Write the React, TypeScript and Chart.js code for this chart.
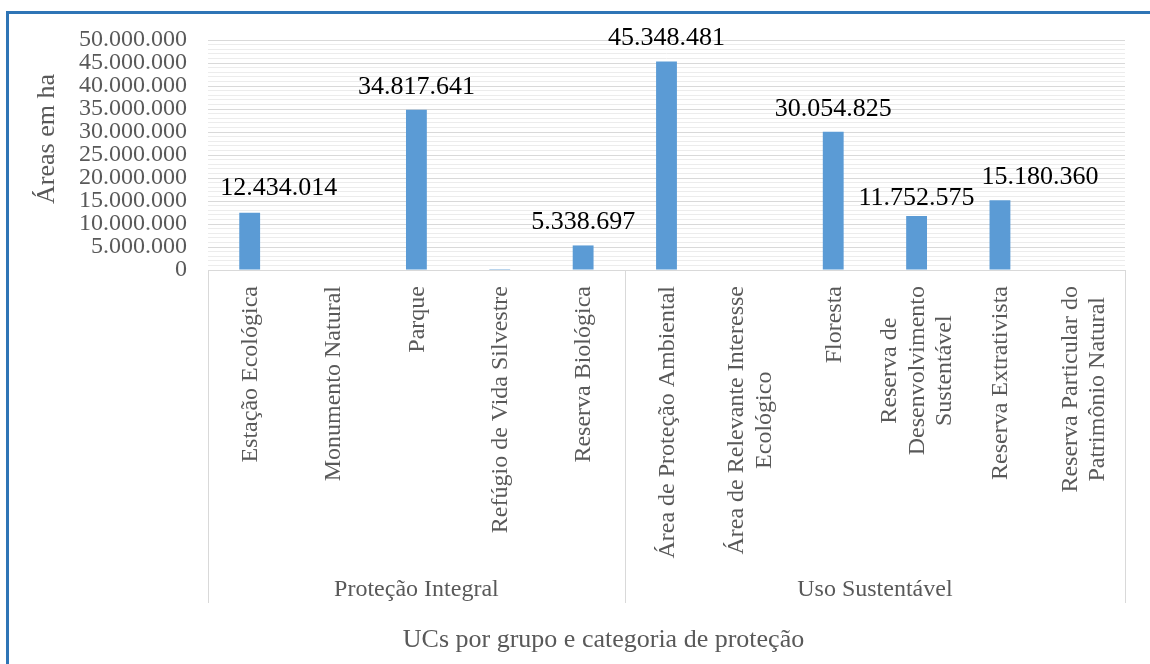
import React, { useEffect, useRef } from "react";
import { Chart, registerables } from "chart.js";

Chart.register(...registerables);

// ---- data ----
const categories: string[][] = [
  ["Estação Ecológica"],
  ["Monumento Natural"],
  ["Parque"],
  ["Refúgio de Vida Silvestre"],
  ["Reserva Biológica"],
  ["Área de Proteção Ambiental"],
  ["Área de Relevante Interesse", "Ecológico"],
  ["Floresta"],
  ["Reserva de", "Desenvolvimento", "Sustentável"],
  ["Reserva Extrativista"],
  ["Reserva Particular do", "Patrimônio Natural"],
];
const groupNames = ["Proteção Integral", "Uso Sustentável"];
const groupSizes = [5, 6];
const areas = [
  12434014, 0, 34817641, 200000, 5338697, 45348481, 0, 30054825,
  11752575, 15180360, 0,
];
const showLabel = [true, false, true, false, true, true, false, true, true, true, false];
const yTickValues = [0, 5000000, 10000000, 15000000, 20000000, 25000000, 30000000, 35000000, 40000000, 45000000, 50000000];
const yTitle = "Áreas em ha";
const xTitle = "UCs por grupo e categoria de proteção";

// label nudges (style, not data)
const labelNudge: [number, number][] = [
  [29, -18], [0, -16], [0, -16], [0, -16], [0, -16], [0, -16],
  [0, -16], [0, -16], [0, -11], [40, -16], [0, -16],
];

const FONT = "'Liberation Serif', 'Times New Roman', serif";
const GRAY = "#595959";
const LINE = "#d9d9d9";

function fmt(v: number): string {
  const s = Math.round(v).toString();
  return s.replace(/\B(?=(\d{3})+(?!\d))/g, ".");
}

const overlay = {
  id: "overlay",
  afterDatasetsDraw(chart: any) {
    const ctx = chart.ctx as CanvasRenderingContext2D;
    const meta = chart.getDatasetMeta(0);
    const xs = chart.scales.x;
    const area = chart.chartArea;
    ctx.save();
    // data labels
    ctx.font = `26px ${FONT}`;
    ctx.fillStyle = "#000";
    ctx.textAlign = "center";
    ctx.textBaseline = "alphabetic";
    meta.data.forEach((bar: any, i: number) => {
      if (!showLabel[i]) return;
      const [dx, dy] = labelNudge[i];
      ctx.fillText(fmt(areas[i]), bar.x + dx, bar.y + dy);
    });

    // category labels
    ctx.font = `24px ${FONT}`;
    ctx.fillStyle = GRAY;
    const lh = 27.5;
    const topY = area.bottom + 16;
    categories.forEach((lines, i) => {
      const cx = xs.getPixelForValue(i);
      const w = Math.max(...lines.map((l) => ctx.measureText(l).width));
      ctx.save();
      ctx.translate(cx, topY);
      ctx.rotate(-Math.PI / 2);
      ctx.textAlign = "center";
      ctx.textBaseline = "middle";
      lines.forEach((l, j) => {
        const v = (j - (lines.length - 1) / 2) * lh;
        ctx.fillText(l, -w / 2, v + 1);
      });
      ctx.restore();
    });

    // group separators and names
    const sepBottom = 603;
    const bounds: number[] = [area.left];
    let idx = 0;
    groupSizes.forEach((n, g) => {
      idx += n;
      if (g < groupSizes.length - 1) {
        bounds.push((xs.getPixelForValue(idx - 1) + xs.getPixelForValue(idx)) / 2);
      } else {
        bounds.push(area.right);
      }
    });
    ctx.strokeStyle = LINE;
    ctx.lineWidth = 1;
    bounds.forEach((bx) => {
      const x = Math.round(bx) + 0.5;
      ctx.beginPath();
      ctx.moveTo(x, area.bottom);
      ctx.lineTo(x, sepBottom);
      ctx.stroke();
    });
    ctx.textAlign = "center";
    ctx.textBaseline = "alphabetic";
    ctx.font = `24px ${FONT}`;
    groupNames.forEach((name, g) => {
      ctx.fillText(name, (bounds[g] + bounds[g + 1]) / 2, 596);
    });

    // axis titles
    ctx.font = `26px ${FONT}`;
    ctx.fillText(xTitle, 603.5, 647);
    ctx.save();
    ctx.translate(54, (area.top + area.bottom) / 2 - 16);
    ctx.rotate(-Math.PI / 2);
    ctx.textAlign = "center";
    ctx.fillText(yTitle, 0, 0);
    ctx.restore();
    ctx.restore();
  },
};

export default function App() {
  const ref = useRef<HTMLCanvasElement>(null);
  useEffect(() => {
    if (!ref.current) return;
    const chart = new Chart(ref.current, {
      type: "bar",
      data: {
        labels: categories.map((c) => c.join(" ")),
        datasets: [
          {
            data: areas,
            backgroundColor: "#5B9BD5",
            borderWidth: 0,
            barPercentage: 0.25,
            categoryPercentage: 1,
          },
        ],
      },
      options: {
        animation: false,
        responsive: false,
        maintainAspectRatio: false,
        layout: { padding: { left: 29, right: 25, top: 40, bottom: 0 } },
        plugins: { legend: { display: false }, tooltip: { enabled: false }, title: { display: false } },
        scales: {
          x: {
            grid: { display: false },
            border: { display: true, color: LINE, width: 1 },
            ticks: { display: false },
            afterFit: (s: any) => {
              s.height = 394;
            },
          },
          y: {
            min: 0,
            max: 50000000,
            border: { display: false },
            grid: {
              drawTicks: false,
              color: (c: any) =>
                c.tick && yTickValues.includes(c.tick.value) ? LINE : "#ececec",
              lineWidth: 1,
            },
            ticks: {
              stepSize: 1000000,
              autoSkip: false,
              padding: 21,
              color: GRAY,
              font: { family: FONT, size: 24 },
              callback: (v: any) => (yTickValues.includes(Number(v)) ? fmt(Number(v)) : ""),
            },
            afterFit: (s: any) => {
              s.width = 179;
            },
          },
        },
      },
      plugins: [overlay],
    });
    return () => chart.destroy();
  }, []);
  return (
    <div style={{ position: "fixed", left: 0, top: 0, width: 1150, height: 664, background: "#fff" }}>
      <div
        style={{
          position: "absolute",
          left: 6,
          top: 11,
          width: 1141,
          height: 650,
          borderLeft: "3px solid #2E75B6",
          borderTop: "3px solid #2E75B6",
        }}
      />
      <canvas ref={ref} width={1150} height={664} style={{ position: "absolute", left: 0, top: 0 }} />
    </div>
  );
}
